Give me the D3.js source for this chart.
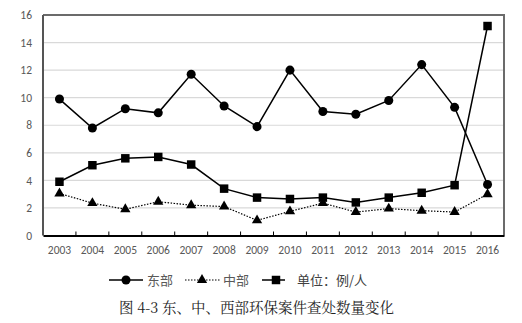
<!DOCTYPE html>
<html><head><meta charset="utf-8">
<script src="https://cdn.jsdelivr.net/npm/d3@7"></script>
<style>body{margin:0;background:#fff}svg{display:block}</style>
</head><body>
<script>
const years = ["2003","2004","2005","2006","2007","2008","2009","2010","2011","2012","2013","2014","2015","2016"];
const east = [9.9,7.8,9.2,8.9,11.7,9.4,7.9,12.0,9.0,8.8,9.8,12.4,9.3,3.7];
const central = [3.05,2.35,1.9,2.45,2.2,2.1,1.1,1.75,2.35,1.7,1.95,1.8,1.7,3.0];
const west = [3.9,5.1,5.6,5.7,5.15,3.4,2.75,2.65,2.75,2.4,2.75,3.1,3.65,15.2];
const yTicks = [0,2,4,6,8,10,12,14,16];
const legendLabels = ["东部","中部","单位：例/人"];
const title = "图 4-3 东、中、西部环保案件查处数量变化";

const W=522,H=323;
const svg=d3.select("body").append("svg").attr("width",W).attr("height",H);
const L=43,R=504,T=15,B=235.5;
const x=d3.scaleBand().domain(years).range([L,R]);
const y=d3.scaleLinear().domain([0,16]).range([B,T]);
const lblFont="Carlito, Calibri, 'Liberation Sans', sans-serif";

// gridlines
svg.append("g").selectAll("line").data(yTicks.filter(d=>d>0&&d<16)).join("line")
  .attr("x1",L).attr("x2",R).attr("y1",d=>y(d)).attr("y2",d=>y(d))
  .attr("stroke","#d9d9d9").attr("stroke-width",1.2);
// frame top/right
svg.append("path").attr("d",`M${L},${T}H${R}V${B}`).attr("fill","none").attr("stroke","#6b6b6b").attr("stroke-width",2);
svg.append("line").attr("x1",L).attr("x2",L).attr("y1",T).attr("y2",B).attr("stroke","#555").attr("stroke-width",2);

// y axis labels
const ya=svg.append("g").attr("transform",`translate(${L},0)`).call(d3.axisLeft(y).tickValues(yTicks).tickSize(0).tickPadding(11));
ya.select(".domain").remove();
ya.selectAll("text").attr("font-family",lblFont).attr("font-size",11.5).attr("fill","#595959");

// x axis
const xa=svg.append("g").attr("transform",`translate(0,${B})`).call(d3.axisBottom(x).tickSize(0).tickPadding(10));
xa.select(".domain").attr("stroke","#000").attr("stroke-width",2);
xa.selectAll("text").attr("font-family",lblFont).attr("font-size",11.5).attr("fill","#595959");
svg.append("g").selectAll("line").data(years.slice(1)).join("line")
  .attr("x1",d=>x(d)).attr("x2",d=>x(d)).attr("y1",B).attr("y2",B-4).attr("stroke","#000").attr("stroke-width",1);

const cx=d=>x(d)+x.bandwidth()/2;
const line=d3.line().x(d=>cx(d[0])).y(d=>y(d[1]));
const zip=a=>years.map((yr,i)=>[yr,a[i]]);

svg.append("path").datum(zip(central)).attr("d",line).attr("fill","none").attr("stroke","#000").attr("stroke-width",1.2).attr("stroke-dasharray","1.5,1.5");
svg.append("path").datum(zip(west)).attr("d",line).attr("fill","none").attr("stroke","#000").attr("stroke-width",1.5);
svg.append("path").datum(zip(east)).attr("d",line).attr("fill","none").attr("stroke","#000").attr("stroke-width",1.5);

const sym={circle:d3.symbol(d3.symbolCircle,64),tri:d3.symbol(d3.symbolTriangle,46),sq:d3.symbol(d3.symbolSquare,72)};
svg.append("g").selectAll("path").data(zip(east)).join("path").attr("d",sym.circle).attr("transform",d=>`translate(${cx(d[0])},${y(d[1])})`);
svg.append("g").selectAll("path").data(zip(central)).join("path").attr("d",sym.tri).attr("transform",d=>`translate(${cx(d[0])},${y(d[1])})`);
svg.append("g").selectAll("path").data(zip(west)).join("path").attr("d",sym.sq).attr("transform",d=>`translate(${cx(d[0])},${y(d[1])})`);

// legend
const ly=280;
const leg=[{x1:109,x2:143,m:126,s:"circle",dash:null,t:147,c:"#595959"},
           {x1:185,x2:220,m:202,s:"tri",dash:"1.5,1.5",t:223,c:"#595959"},
           {x1:262,x2:285,m:276,s:"sq",dash:null,t:297,c:"#404040"}];
leg.forEach((l,i)=>{
  svg.append("line").attr("x1",l.x1).attr("x2",l.x2).attr("y1",ly).attr("y2",ly).attr("stroke","#000").attr("stroke-width",l.dash?1.2:1.5).attr("stroke-dasharray",l.dash);
  svg.append("path").attr("d",sym[l.s]).attr("transform",`translate(${l.m},${ly})`);
  svg.append("text").attr("x",l.t).attr("y",ly).attr("dy","0.36em").attr("font-family","'Noto Sans CJK SC', sans-serif").attr("font-size",13).attr("fill",l.c).text(legendLabels[i]);
});

svg.append("text").attr("x",256.5).attr("y",308).attr("dy","0.36em").attr("text-anchor","middle")
  .attr("font-family","'Noto Serif CJK SC','Liberation Serif', serif").attr("font-size",14.5).attr("fill","#222").text(title);
</script>
</body></html>
